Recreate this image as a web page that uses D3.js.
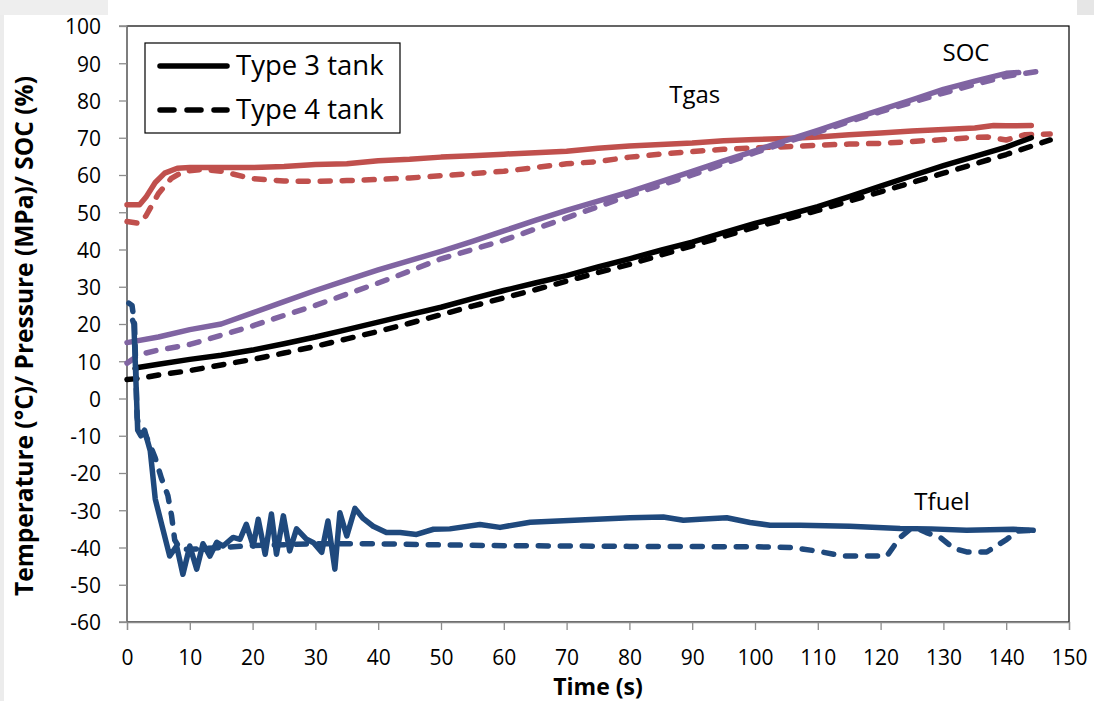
<!DOCTYPE html>
<html>
<head>
<meta charset="utf-8">
<script src="https://cdn.jsdelivr.net/npm/d3@7"></script>
<style>
  body { margin: 0; background: #fff; }
  svg text { font-family: "Open Sans", Lato, sans-serif; fill: #000; }
</style>
</head>
<body>
<div id="chart"></div>
<script>
// values: [time (s), value]
const tgasType3 = [[0,52],[2,52],[3,54],[4.5,58],[6,60.5],[8,61.8],[10,62],[15,62],[20,62],[25,62.3],[30,62.8],[35,63],[40,63.8],[45,64.2],[50,64.8],[55,65.2],[60,65.6],[65,66],[70,66.4],[75,67.2],[80,67.8],[85,68.2],[90,68.6],[95,69.2],[100,69.5],[105,69.8],[110,70.2],[115,70.8],[120,71.3],[125,71.8],[130,72.2],[135,72.6],[138,73.3],[140,73.2],[144,73.3]];
const tgasType4 = [[0,47.5],[2,47],[3,49],[5,55],[7,59],[9,61],[12,61.5],[15,61],[20,59],[25,58.4],[30,58.3],[35,58.5],[40,58.8],[45,59.2],[50,59.8],[55,60.4],[60,61],[65,62],[70,63],[75,63.6],[80,64.8],[85,65.6],[90,66.3],[95,66.9],[100,67.3],[105,67.6],[110,68],[115,68.3],[120,68.5],[125,69],[130,69.5],[134,70],[137,70.2],[140,69.4],[143,70.8],[147,71]];
const socType3 = [[0,15],[5,16.5],[10,18.5],[15,20],[20,23],[25,26],[30,29],[35,31.8],[40,34.5],[45,37],[50,39.5],[55,42.2],[60,45],[65,47.8],[70,50.5],[75,53],[80,55.5],[85,58.2],[90,61],[95,63.8],[100,66.5],[105,69.3],[110,72],[115,74.8],[120,77.5],[125,80.2],[130,83],[135,85.2],[140,87.3],[142,87.5]];
const socType4 = [[0,9.5],[2,11.8],[5,13],[10,14.5],[15,17],[20,19.5],[25,22.3],[30,25],[35,28],[40,31],[45,34.2],[50,37.5],[55,40],[60,42.5],[65,45.5],[70,48.5],[75,51.5],[80,54.5],[85,57.3],[90,60],[95,63],[100,66],[105,68.8],[110,71.5],[115,74.3],[120,77],[125,79.5],[130,82],[135,84.3],[140,86.5],[145,87.8]];
const presType3 = [[1.3,8],[2,8.4],[5,9.2],[10,10.5],[15,11.6],[20,13],[25,14.7],[30,16.5],[35,18.5],[40,20.5],[45,22.5],[50,24.5],[55,26.8],[60,29],[65,31],[70,33],[75,35.3],[80,37.5],[85,39.8],[90,42],[95,44.5],[100,47],[105,49.2],[110,51.5],[115,54.2],[120,57],[125,59.8],[130,62.5],[135,65],[140,67.5],[144,70]];
const presType4 = [[0,5.1],[2,5.4],[5,6.3],[10,7.5],[15,9],[20,10.5],[25,12.2],[30,14],[35,16],[40,18],[45,20.2],[50,22.5],[55,24.8],[60,27],[65,29.2],[70,31.5],[75,33.8],[80,36],[85,38.5],[90,41],[95,43.5],[100,46],[105,48.2],[110,50.5],[115,53],[120,55.5],[125,58],[130,60.5],[135,63],[140,65.5],[147,69.4]];
const tfuelType3 = [[0.9,21],[1.1,20],[1.7,-8.5],[2.2,-10],[2.8,-8.5],[3.2,-11],[3.7,-14],[4.5,-27],[5.7,-35],[6.8,-42.3],[7.9,-39.6],[8.9,-47.2],[10,-39.6],[11.1,-45.8],[12.1,-39],[13.2,-42.3],[14.3,-38.6],[15.3,-39.6],[16.9,-37.3],[18,-37.8],[19,-33.8],[20.1,-39.6],[20.9,-32.4],[22,-41.8],[23,-31],[23.8,-41.8],[24.9,-31.5],[25.9,-40.9],[27,-35],[28.6,-37.8],[29.7,-38.7],[31,-41.3],[32,-32.9],[33.1,-45.8],[33.9,-30.7],[35,-36.9],[36.3,-29.5],[37.6,-32.2],[39.2,-34.3],[41.3,-36],[43.5,-36],[46.1,-36.5],[48.8,-35.1],[51.4,-35],[56.2,-33.8],[59.4,-34.6],[64.2,-33.2],[72.1,-32.6],[80.1,-32],[85.4,-31.8],[88.6,-32.7],[91.2,-32.4],[95.5,-32],[99.2,-33.3],[102.4,-34],[107.2,-34],[115.1,-34.3],[123.1,-34.9],[128,-35],[133.7,-35.4],[141.1,-35.1],[144.3,-35.4]];
const tfuelType4 = [[0.3,25.6],[0.8,25],[1.2,20],[1.6,-5],[2,-9],[3,-10],[3.8,-13],[4.5,-16],[5.5,-21.5],[6.5,-26],[7.1,-31.5],[7.6,-38],[8.5,-40.5],[10,-40.5],[15,-40],[20,-39.5],[30,-39],[40,-39],[50,-39.3],[60,-39.5],[80,-39.7],[100,-39.8],[106,-40],[110,-41],[114,-42.3],[121,-42.3],[123.1,-37.3],[124.7,-35.1],[126,-35],[127.3,-36],[129.5,-37.3],[131.6,-40.2],[133.7,-41.2],[136.9,-41.2],[140.1,-37.8],[141.9,-35.6],[144.3,-35.4]];

const xTicks = d3.range(0, 151, 10);
const yTicks = d3.range(-60, 101, 10);
const seriesList = [
    { data: tgasType3, color: "#C0504D", dashed: false },
    { data: tgasType4, color: "#C0504D", dashed: true },
    { data: socType3, color: "#8064A2", dashed: false },
    { data: socType4, color: "#8064A2", dashed: true },
    { data: presType3, color: "#000000", dashed: false },
    { data: presType4, color: "#000000", dashed: true },
    { data: tfuelType3, color: "#1F497D", dashed: false },
    { data: tfuelType4, color: "#1F497D", dashed: true }
];
const legendItems = [
    { label: "Type 3 tank", dashed: false },
    { label: "Type 4 tank", dashed: true }
];
const notes = [
    { text: "Tgas", t: 90.4, v: 79.4 },
    { text: "SOC", t: 133.6, v: 90.6 },
    { text: "Tfuel", t: 129.8, v: -29.8 }
];

const width = 1094, height = 701;
const svg = d3.select("#chart").append("svg")
    .attr("width", width)
    .attr("height", height);

// grey screenshot frame bits
svg.append("rect").attr("x", 0).attr("y", 0).attr("width", 4).attr("height", height).attr("fill", "#ececec");
svg.append("rect").attr("x", 0).attr("y", 0).attr("width", 108).attr("height", 15).attr("fill", "#eeeeee");
svg.append("rect").attr("x", 1077).attr("y", 0).attr("width", 17).attr("height", 15).attr("fill", "#e6e6e6");

// scales
const x = d3.scaleLinear().domain([0, 150]).range([127, 1069]);
const y = d3.scaleLinear().domain([-60, 100]).range([622, 26]);

// plot area border
svg.append("rect")
    .attr("x", x(0)).attr("y", y(100))
    .attr("width", x(150) - x(0)).attr("height", y(-60) - y(100))
    .attr("fill", "none").attr("stroke", "#000").attr("stroke-width", 1.2);

// y axis
svg.append("g")
    .attr("transform", "translate(" + x(0) + ",0)")
    .call(d3.axisLeft(y).tickValues(yTicks).tickSize(8).tickPadding(18).tickFormat(d => String(d)))
    .call(g => g.selectAll("line, path").attr("stroke", "#8c8c8c").attr("stroke-width", 1.3))
    .call(g => g.select(".domain").attr("d", "M-8," + y(100) + "H0V" + y(-60) + "H-8"))
    .call(g => g.selectAll("text").style("font-size", "21px").attr("dy", "0.38em"));

// x axis
svg.append("g")
    .attr("transform", "translate(0," + y(-60) + ")")
    .call(d3.axisBottom(x).tickValues(xTicks).tickSize(8).tickPadding(20).tickFormat(d => String(d)))
    .call(g => g.selectAll("line, path").attr("stroke", "#8c8c8c").attr("stroke-width", 1.3))
    .call(g => g.selectAll("text").style("font-size", "21px"));

// axis titles
svg.append("text")
    .attr("text-anchor", "middle")
    .attr("font-weight", "bold")
    .style("font-size", "23px")
    .attr("x", 598).attr("y", 695)
    .text("Time (s)");

svg.append("text")
    .attr("text-anchor", "middle")
    .attr("font-weight", "bold")
    .style("font-size", "24.5px")
    .attr("transform", "translate(33,336) rotate(-90)")
    .text("Temperature (°C)/ Pressure (MPa)/ SOC (%)");

// lines
const line = d3.line().x(d => x(d[0])).y(d => y(d[1]));
svg.append("g")
    .selectAll("path")
    .data(seriesList)
    .join("path")
    .attr("d", d => line(d.data))
    .attr("fill", "none")
    .attr("stroke", d => d.color)
    .attr("stroke-width", 5.5)
    .attr("stroke-linejoin", "round")
    .attr("stroke-linecap", "round")
    .attr("stroke-dasharray", d => d.dashed ? "10,12" : null);

// annotations
svg.append("g")
    .selectAll("text")
    .data(notes)
    .join("text")
    .attr("text-anchor", "middle")
    .style("font-size", "24px")
    .attr("x", d => x(d.t))
    .attr("y", d => y(d.v))
    .text(d => d.text);

// legend
const legend = svg.append("g");
legend.append("rect")
    .attr("x", 145).attr("y", 43).attr("width", 255).attr("height", 90)
    .attr("fill", "#fff").attr("stroke", "#000").attr("stroke-width", 1.2);
const rows = legend.selectAll("g")
    .data(legendItems)
    .join("g")
    .attr("transform", (d, i) => "translate(0," + (66 + i * 44) + ")");
rows.append("line")
    .attr("x1", 160).attr("x2", 227)
    .attr("stroke", "#000").attr("stroke-width", 5.5)
    .attr("stroke-linecap", "round")
    .attr("stroke-dasharray", d => d.dashed ? "14,13" : null);
rows.append("text")
    .attr("x", 236).attr("y", 9)
    .style("font-size", "27.5px")
    .text(d => d.label);
</script>
</body>
</html>
